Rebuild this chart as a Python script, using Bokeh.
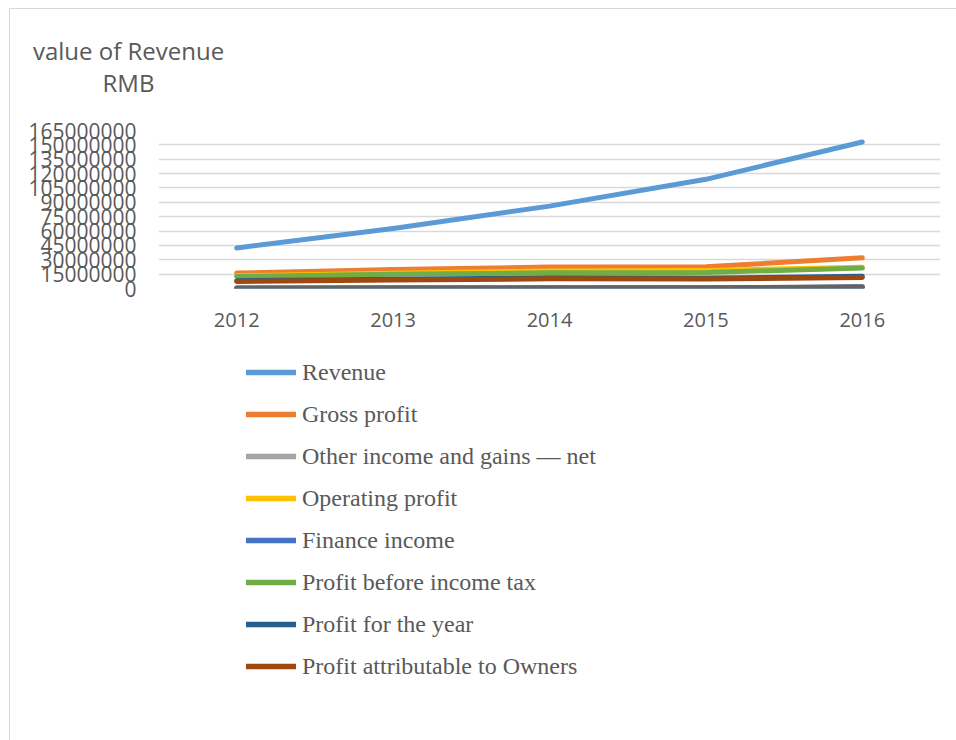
from bokeh.plotting import figure
from bokeh.layouts import column
from bokeh.models import (FactorRange, Range1d, FixedTicker, Legend, LegendItem, Label)
from bokeh.embed import file_html
from bokeh.resources import INLINE

years = ["2012", "2013", "2014", "2015", "2016"]

revenue = [42.3e6, 62.6e6, 86.0e6, 114.0e6, 153.0e6]
gross_profit = [16.1e6, 19.9e6, 22.4e6, 22.7e6, 32.1e6]
other_income_net = [0.5e6, 0.6e6, 0.6e6, 0.7e6, 1.2e6]
operating_profit = [13.4e6, 16.0e6, 18.3e6, 18.9e6, 22.3e6]
finance_income = [0.2e6, 0.3e6, 0.4e6, 0.5e6, 1.6e6]
profit_before_tax = [12.6e6, 15.0e6, 16.4e6, 16.7e6, 21.3e6]
profit_for_year = [8.2e6, 9.7e6, 11.1e6, 10.9e6, 12.8e6]
profit_owners = [7.4e6, 8.8e6, 10.1e6, 9.8e6, 11.5e6]
unlabelled_series = [0.4e6, 0.7e6, 0.7e6, 0.7e6, 1.8e6]

y_ticks = [0, 15000000, 30000000, 45000000, 60000000, 75000000, 90000000,
           105000000, 120000000, 135000000, 150000000, 165000000]
y_tick_labels = [str(t) for t in y_ticks]

series = [
    ("Revenue", revenue, "#5B9BD5"),
    ("Gross profit", gross_profit, "#ED7D31"),
    ("Other income and gains \u2014 net", other_income_net, "#A5A5A5"),
    ("Operating profit", operating_profit, "#FFC000"),
    ("Finance income", finance_income, "#4472C4"),
    ("Profit before income tax", profit_before_tax, "#70AD47"),
    ("Profit for the year", profit_for_year, "#255E91"),
    ("Profit attributable to Owners", profit_owners, "#9E480E"),
]

TXT = "#595959"
LW = 5
OX, OY = 10, 9            # chart-area border offset inside the window
W = 956 - OX
T_TOP, C_TOP, L_TOP, BOTTOM = OY, 115, 345, 740   # absolute band edges
FL, FR, FT, FB = 158, 940, 130, 288                # absolute plot frame


def blank_fig(h, xr, yr):
    f = figure(width=W, height=h, x_range=xr, y_range=yr, output_backend="svg",
               toolbar_location=None, x_axis_location=None, y_axis_location=None,
               min_border=0, title=None, frame_align=False)
    f.outline_line_color = None
    f.xgrid.visible = False
    f.ygrid.visible = False
    f.border_fill_color = "white"
    return f


# --- title band ---
TH = C_TOP - T_TOP
tf = blank_fig(TH, Range1d(0, 1), Range1d(0, 1))
tf.add_layout(Label(x=128 - OX, y=TH - (49.7 - T_TOP), x_units="screen", y_units="screen",
                    text="value of Revenue", text_align="center", text_baseline="alphabetic",
                    text_font="Open Sans", text_font_size="24px", text_color=TXT))
tf.add_layout(Label(x=128 - OX, y=TH - (82.3 - T_TOP), x_units="screen", y_units="screen",
                    text="RMB", text_align="center", text_baseline="alphabetic",
                    text_font="Open Sans", text_font_size="24px", text_color=TXT))

# --- chart band ---
CH = L_TOP - C_TOP
p = figure(width=W, height=CH, x_range=FactorRange(factors=years),
           y_range=Range1d(0, 165000000), output_backend="svg",
           toolbar_location=None, title=None, frame_align=False,
           min_border_left=FL - OX, min_border_right=956 - FR,
           min_border_top=FT - C_TOP, min_border_bottom=L_TOP - FB)
p.outline_line_color = None
p.border_fill_color = "white"
p.xgrid.grid_line_color = None
p.ygrid.grid_line_color = "#D9D9D9"
p.ygrid.grid_line_width = 1.3
p.yaxis.ticker = FixedTicker(ticks=y_ticks)
p.yaxis.major_label_overrides = {t: l for t, l in zip(y_ticks, y_tick_labels)}
for ax in (p.xaxis[0], p.yaxis[0]):
    ax.axis_line_color = None
    ax.major_tick_line_color = None
    ax.minor_tick_line_color = None
    ax.major_label_text_color = TXT
    ax.major_label_text_font = "Open Sans"
p.yaxis.major_label_text_font_size = "21px"
p.yaxis.major_label_standoff = 16
p.xaxis.major_label_text_font_size = "20px"
p.xaxis.major_label_standoff = 18

for name, vals, col in series:
    p.line(years, vals, line_color=col, line_width=LW, line_cap="round", line_join="round")
p.line(years, unlabelled_series, line_color="#636363", line_width=LW,
       line_cap="round", line_join="round")

# --- legend band (series drawn off-range so only legend keys show) ---
LH = BOTTOM - L_TOP
lf = blank_fig(LH, FactorRange(factors=years), Range1d(-2, -1))
items = []
for name, vals, col in series:
    r = lf.line(years, vals, line_color=col, line_width=5.5, line_cap="round")
    items.append(LegendItem(label=name, renderers=[r]))
LEG_TOP = 354
leg_h = 8 * 36 + 7 * 6
legend = Legend(items=items, location=(246 - OX, LH - (LEG_TOP - L_TOP) - leg_h),
                label_text_font="Liberation Serif", label_text_font_size="24px",
                label_text_color=TXT, glyph_width=50, glyph_height=36,
                label_height=36, spacing=6, label_standoff=6, padding=0,
                margin=0, border_line_color=None, background_fill_alpha=0)
lf.add_layout(legend, "center")

layout = column(tf, p, lf, spacing=0)
layout.margin = (OY - 1, 0, 0, OX - 1)
layout.styles = {"border-left": "1px solid #D9D9D9", "border-top": "1px solid #D9D9D9"}

open("out.html", "w").write(file_html(layout, INLINE))
